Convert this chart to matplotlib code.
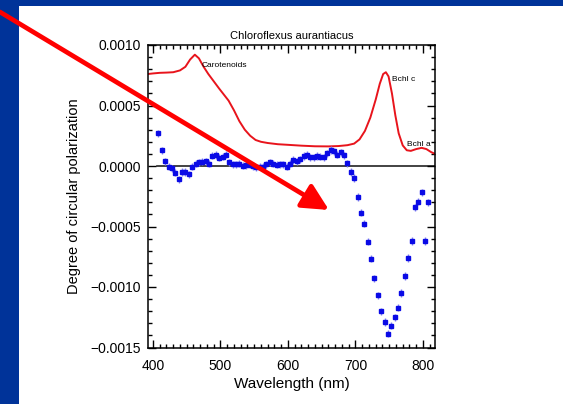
import matplotlib
matplotlib.use("Agg")
import matplotlib.pyplot as plt
import numpy as np
from matplotlib.patches import Rectangle, FancyArrowPatch
from matplotlib.ticker import MultipleLocator

plt.rcParams['font.family'] = ['Liberation Sans', 'DejaVu Sans']

# circular polarization measurements (nm, value)
wavelength = np.arange(408, 809, 5)
cpol = [0.00027, 0.00013, 0.00004, -0.000005, -0.00002, -0.000055, -0.00011,
        -0.00005, -0.00005, -0.00007, -0.000005, 0.00002, 0.00003, 0.000035,
        0.00004, 0.00002, 0.000085, 0.00009, 0.00007, 0.000078, 0.000095,
        0.00003, 0.000015, 0.000015, 0.00002, 0.000003, 0.000006, 0.00001,
        0.0, -0.00001, -0.000005, -0.000005, 0.000015, 0.00003, 0.00002,
        0.00001, 0.000015, 0.000015, -0.000005, 0.00002, 0.00005, 0.00004,
        0.000056, 0.000083, 0.000092, 0.000072, 0.000072, 0.000083, 0.000078,
        0.000072, 0.000106, 0.000133, 0.00012, 0.000094, 0.000114, 0.000089,
        0.000022, -0.00005, -0.0001, -0.000256, -0.000386, -0.000478,
        -0.000625, -0.000767, -0.000928, -0.00107, -0.0012, -0.00129,
        -0.001386, -0.00132, -0.00125, -0.00117, -0.00105, -0.00091,
        -0.00076, -0.00062, -0.00034, -0.000294, -0.000217, -0.00062, -0.0003]
cpol_err = 0.00003

# absorption spectrum (scaled)
abs_wl = [392, 400, 410, 420, 430, 440, 448, 455, 462, 468, 475, 482, 490,
          498, 505, 512, 520, 528, 536, 544, 552, 560, 570, 585, 600, 620,
          640, 660, 675, 688, 698, 706, 714, 722, 730, 736, 741, 745, 749,
          754, 759, 764, 770, 776, 782, 790, 798, 805, 812, 818]
abs_val = [0.00076, 0.000765, 0.00077, 0.000772, 0.000775, 0.00079, 0.00082,
           0.00088, 0.00092, 0.00089, 0.00082, 0.00076, 0.0007, 0.00064,
           0.00059, 0.00054, 0.00046, 0.00037, 0.0003, 0.00025, 0.000215,
           0.0002, 0.00019, 0.00018, 0.000175, 0.000168, 0.000163, 0.000162,
           0.000165, 0.000172, 0.000185, 0.00022, 0.00029, 0.0004, 0.00055,
           0.00068, 0.00076, 0.000775, 0.00074, 0.0006, 0.00042, 0.00027,
           0.00017, 0.00013, 0.000125, 0.00014, 0.00015, 0.00014, 0.000115,
           0.0001]

W, H = 563, 404
fig = plt.figure(figsize=(W / 100, H / 100), dpi=100)
fig.patch.set_facecolor('#003399')
fig.add_artist(Rectangle((19 / W, 0), 1, 1 - 6 / H, transform=fig.transFigure,
                         facecolor='white', edgecolor='none', zorder=-5))

ax = fig.add_axes([148 / W, 1 - 347.5 / H, 287 / W, 302.5 / H])

ax.plot(abs_wl, abs_val, color='#e8141c', lw=1.4, zorder=2)
ax.plot([wavelength[0] - 2, 830], [0, 0], color='#222222', lw=1.2, zorder=1)
ax.errorbar(wavelength, cpol, yerr=cpol_err, fmt='s', color='#0a0ae6',
            ms=2.6, ecolor='#8080f0', elinewidth=1, capsize=0, zorder=3)

ax.text(472, 0.00082, 'Carotenoids', fontsize=6)
ax.text(754, 0.0007, 'Bchl c', fontsize=6)
ax.text(776, 0.000165, 'Bchl a', fontsize=6)

ax.set_xlim(392.6, 817.8)
ax.set_ylim(-0.0015, 0.0010)
ax.xaxis.set_major_locator(MultipleLocator(100))
ax.xaxis.set_minor_locator(MultipleLocator(10))
ax.yaxis.set_major_locator(MultipleLocator(0.0005))
ax.yaxis.set_minor_locator(MultipleLocator(0.0001))
ax.yaxis.set_major_formatter(plt.FuncFormatter(lambda v, p: f"{v:.4f}".replace('-', '\u2212') if abs(v) > 1e-12 else "0.0000"))
ax.tick_params(which='both', direction='in', top=True, right=True, width=1)
ax.tick_params(which='major', length=6, labelsize=10)
ax.tick_params(which='minor', length=3)
ax.tick_params(axis='x', pad=8)
ax.tick_params(axis='y', pad=5)
for s in ax.spines.values():
    s.set_linewidth(1.1)

ax.set_title('Chloroflexus aurantiacus', fontsize=8, pad=4)
ax.set_xlabel('Wavelength (nm)', fontsize=11, labelpad=3)
ax.set_ylabel('Degree of circular polarization', fontsize=10.5, labelpad=7)

arrow = FancyArrowPatch((0, 1 - 12 / H), (329 / W, 1 - 210 / H),
                        transform=fig.transFigure, color='#ff0000',
                        arrowstyle='-|>,head_length=16,head_width=8',
                        mutation_scale=1, lw=3.4, shrinkA=0, shrinkB=0,
                        zorder=10)
fig.add_artist(arrow)

fig.savefig('out.png', dpi=100, facecolor=fig.get_facecolor())
